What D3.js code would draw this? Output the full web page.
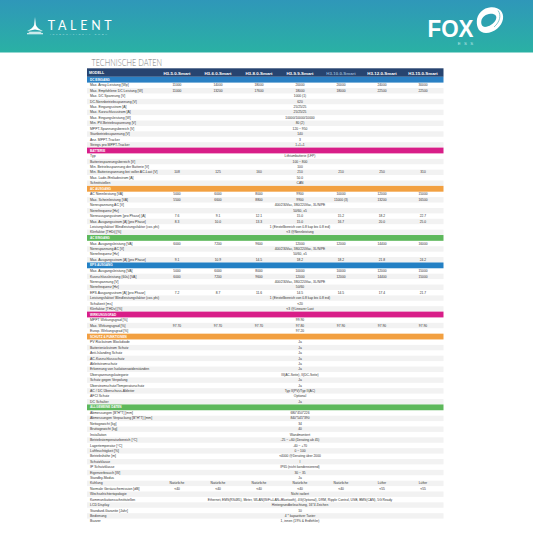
<!DOCTYPE html>
<html><head><meta charset="utf-8">
<script src="https://cdn.jsdelivr.net/npm/d3@7"></script>
<style>html,body{margin:0;padding:0;background:#fff}svg{display:block}</style></head>
<body><script>
const models=["H3-5.0-Smart","H3-6.0-Smart","H3-8.0-Smart","H3-9.9-Smart","H3-10.0-Smart","H3-12.0-Smart","H3-15.0-Smart"];
const dcRows=[["Max. Array-Leistung [Wp]",["11000","14000","18000","20000","20000","24000","30000"]],["Max. Empfohlene DC Leistung [W]",["11000","13200","17600","18000","18000","22500","22500"]],["Max. DC Spannung [V]","1000 (1)"],["DC-Nennbetriebsspannung [V]","620"],["Max. Eingangsstrom [A]","25/25/25"],["Max. Kurzschlussstrom [A]","25/25/25"],["Max. Eingangsleistung [W]","10000/10000/10000"],["Min. PV-Betriebsspannung [V]","80 (2)"],["MPPT-Spannungsbereich [V]","120 ~ 950"],["Startbetriebsspannung [V]","140"],["Anz. MPPT-Tracker","3"],["Strings pro MPPT-Tracker","1+1+1"]];
const batteryRows=[["Typ","Lithiumbatterie (LFP)"],["Batteriespannungsbereich [V]","100 ~ 800"],["Min. Betriebsspannung der Batterie [V]","100"],["Min. Batteriespannung bei voller AC-Last [V]",["108","125","160","210","210","250","310"]],["Max. Lade-/Entladestrom [A]","50.0"],["Schnittstellen","CAN"]];
const acOutRows=[["AC Nennleistung [VA]",["5000","6000","8000","9900","10000","12000","15000"]],["Max. Scheinleistung [VA]",["5500","6600","8800","9900","11000 (3)","13200","16500"]],["Nennspannung AC [V]","400/230Vac, 380/220Vac, 3L/N/PE"],["Nennfrequenz [Hz]","50/60, ±5"],["Nennausgangsstrom [pro Phase] [A]",["7.6","9.1","12.1","15.0","15.2","18.2","22.7"]],["Max. Ausgangsstrom [A] [pro Phase]",["8.3","10.0","13.3","15.0","16.7","20.0","25.0"]],["Leistungsfaktor/ Blindleistungsfaktor (cos phi)","1 (Einstellbereich von 0.8 kap bis 0.8 ind)"],["Klirrfaktor [THDi] [%]","<3 @Nennleistung"]];
const acInRows=[["Max. Ausgangsleistung [VA]",["6000","7200","9600","12000","12000","14400","16000"]],["Nennspannung AC [V]","400/230Vac, 380/220Vac, 3L/N/PE"],["Nennfrequenz [Hz]","50/60, ±5"],["Max. Ausgangsstrom [A] [pro Phase]",["9.1","10.9","14.5","18.2","18.2","21.8","24.2"]]];
const epsRows=[["Max. Ausgangsleistung [VA]",["5000","6000","8000","10000","10000","12000","15000"]],["Kurzschlussleistung (60s) [VA]",["6000","7200","9600","12000","12000","14400","15000"]],["Nennspannung [V]","400/230Vac, 380/220Vac, 3L/N/PE"],["Nennfrequenz [Hz]","50/60"],["EPS Ausgangsstrom [A] [pro Phase]",["7.2","8.7","11.6","14.5","14.5","17.4","21.7"]],["Leistungsfaktor/ Blindleistungsfaktor (cos phi)","1 (Einstellbereich von 0.8 kap bis 0.8 ind)"],["Schaltzeit [ms]","<20"],["Klirrfaktor [THDv] [%]","<3 @Linearer Last"]];
const effRows=[["MPPT Wirkungsgrad [%]","99.90"],["Max. Wirkungsgrad [%]",["97.70","97.70","97.70","97.80","97.90","97.90","97.90"]],["Europ. Wirkungsgrad [%]","97.20"]];
const protRows=[["PV Rückstrom Blockdiode","Ja"],["Batterierückstrom Schutz","Ja"],["Anti-Islanding Schutz","Ja"],["AC-Kurzschlussschutz","Ja"],["Ableitstromschutz","Ja"],["Erkennung von Isolationswiderständen","Ja"],["Überspannungskategorie","III(AC-Seite), II(DC-Seite)"],["Schutz gegen Verpolung","Ja"],["Überstromschutz/Temperaturschutz","Ja"],["AC / DC Überschuss-Ableiter","Typ II(PV)/Typ II(AC)"],["AFCI Schutz","Optional"],["DC Schalter","Ja"]];
const generalRows=[["Abmessungen [B*H*T] [mm]","680*450*226"],["Abmessungen Verpackung [B*H*T] [mm]","840*545*390"],["Nettogewicht [kg]","34"],["Bruttogewicht [kg]","40"],["Installation","Wandmontiert"],["Betriebstemperaturbereich [°C]","-25 ~ +60 (Derating ab 45)"],["Lagertemperatur [°C]","-40 ~ +70"],["Luftfeuchtigkeit [%]","0 ~ 100"],["Betriebshöhe [m]","<4000 @Derating über 2000"],["Schutzklasse","I"],["IP Schutzklasse","IP65 (nicht kondensierend)"],["Eigenverbrauch [W]","30 ~ 35"],["Standby-Modus","Ja"],["Kühlung",["Natürliche","Natürliche","Natürliche","Natürliche","Natürliche","Lüfter","Lüfter"]],["Normale Geräuschemission [dB]",["<40","<40","<40","<40","<40","<55","<55"]],["Wechselrichtertopologie","Nicht isoliert"],["Kommunikationsschnittstellen","Ethernet, EMS(RS485), Meter, WLAN(WiFi+LAN+Bluetooth), 4G(Optional), DRM, Ripple Control, USB, BMS(CAN), 5G Ready"],["LCD Display","Hintergrundbeleuchtung, 16*4 Zeichen"],["Standard-Garantie [Jahr]","10"],["Bedienung","4 * kapazitiver Taster"],["Buzzer","1, innen (19% & Erdfehler)"]];
const sections=[["DC EINGANG","#2a80c4",dcRows],["BATTERIE","#d81e88",batteryRows],["AC AUSGANG","#f2a041",acOutRows],["AC EINGANG","#5db85b",acInRows],["EPS AUSGANG","#2380c4",epsRows],["WIRKUNGSGRAD","#d81e88",effRows],["SCHUTZ & FUNKTIONEN","#f2a041",protRows],["ALLGEMEINE DATEN","#5db85b",generalRows]];

const W=533,H=533,FONT='"Liberation Sans",Arial,sans-serif';
const svg=d3.select("body").append("svg").attr("width",W).attr("height",H).attr("viewBox",[0,0,W,H]);
const grad=svg.append("defs").append("linearGradient").attr("id","hd").attr("x1",0).attr("x2",0).attr("y1",0).attr("y2",1);
grad.append("stop").attr("offset",0).attr("stop-color","#2f97b9");
grad.append("stop").attr("offset",1).attr("stop-color","#2ab1a4");
svg.append("rect").attr("width",W).attr("height",52.5).attr("fill","url(#hd)");

// TALENT logo
const lg=svg.append("g").attr("fill","#fff");
lg.append("path").attr("d","M35 17L35.9 25C36.5 27 39 29.5 43.3 31.2L35 29.6L26.7 31.2C31 29.5 33.5 27 34.1 25Z");
lg.append("path").attr("d","M28 31.7H42L40.5 32.7H29.5ZM27 33.2H43V34.2H27Z");
lg.append("text").attr("x",47.7).attr("y",30).attr("font-family",'"Lato",sans-serif').attr("font-size",12.4).attr("font-weight",400).attr("textLength",64).attr("lengthAdjust","spacing").text("TALENT");
lg.append("text").attr("x",50).attr("y",34.6).attr("font-family",FONT).attr("font-size",2.4).attr("textLength",57).attr("fill","#bfe3e6").text("INTERNATIONAL GMBH");
// FOX logo
const fx=svg.append("g").attr("fill","#fff");
fx.append("text").attr("x",427.5).attr("y",37.4).attr("font-family",FONT).attr("font-weight",700).attr("font-size",23.5).attr("textLength",46).attr("lengthAdjust","spacingAndGlyphs").text("FOX");
fx.append("text").attr("x",457.7).attr("y",45.2).attr("font-family",FONT).attr("font-size",4.4).attr("textLength",15.5).attr("fill","#bfe6e6").text("ESS");
fx.append("path").attr("fill-rule","evenodd").attr("d","M491 7.3C499 6.8 504 12 503 19C502 26 494 33 486 33C479.5 33 476.5 28 476.8 21C477 14 483 7.8 491 7.3ZM490.5 13.8C486 14 482 17 481.3 21C480.8 25.5 483 27.5 486.5 26.8C490.5 26 495.5 22.5 496.3 18C496.8 15.2 494 13.6 490.5 13.8Z");
fx.append("path").attr("fill","none").attr("stroke","#2fa3b0").attr("stroke-width",.6).attr("d","M498 10.5C501.5 15 500 22 494 27");

svg.append("text").attr("x",91.5).attr("y",65.6).attr("font-family",'"Lato",sans-serif').attr("font-weight",300).attr("font-size",9.6).attr("fill","#7d7d7d").attr("textLength",70.5).attr("lengthAdjust","spacingAndGlyphs").text("TECHNISCHE DATEN");

// scales
const x=d3.scaleBand().domain(models).range([156.5,443.5]);
const cx=i=>x(models[i])+x.bandwidth()/2;
const X0=87,X1=x.range()[1];
let u=0;const flat=[];
const BH=1.07;
sections.forEach(([name,color,rows])=>{
  flat.push({band:name,color,u0:u,u1:u+BH});u+=BH;
  rows.forEach((r,j)=>{flat.push({label:r[0],val:r[1],stripe:j%2==1,u0:u,u1:u+1});u+=1;});
});
const y=d3.scaleLinear().domain([0,u]).range([76.8,524]);

const t=svg.append("g");
t.append("rect").attr("x",X0).attr("y",68.3).attr("width",X1-X0).attr("height",8.5).attr("fill","#274470");
t.append("text").attr("x",89).attr("y",74.3).attr("font-family",FONT).attr("font-size",3.6).attr("font-weight",700).attr("fill","#fff").text("MODELL");
t.selectAll(".m").data(models).join("text").attr("x",d=>x(d)+x.bandwidth()/2).attr("y",74.5)
 .attr("text-anchor","middle").attr("font-family",FONT).attr("font-size",4.4).attr("font-weight",700)
 .attr("fill",(d,i)=>i==4?"#8fb0cf":"#fff").text(d=>d);

const g=t.selectAll(".r").data(flat).join("g");
g.filter(d=>d.band||d.stripe).append("rect").attr("x",X0).attr("width",X1-X0)
 .attr("y",d=>y(d.u0)).attr("height",d=>y(d.u1)-y(d.u0)).attr("fill",d=>d.band?d.color:"#f2f2f2");
g.filter(d=>d.band).append("text").attr("x",90).attr("y",d=>(y(d.u0)+y(d.u1))/2+1.1).attr("font-family",FONT)
 .attr("font-size",3.1).attr("font-weight",700).attr("fill","#fff").text(d=>d.band);
const tc="#333";
g.filter(d=>d.label).append("text").attr("x",90).attr("y",d=>(y(d.u0)+y(d.u1))/2+1.1).attr("font-family",FONT)
 .attr("font-size",3.45).attr("fill",tc).text(d=>d.label);
g.filter(d=>d.label).each(function(d){
  const vals=Array.isArray(d.val)?d.val.map((v,i)=>[v,cx(i)]):[[d.val,cx(3)]];
  d3.select(this).selectAll("text.v").data(vals).join("text").attr("class","v").attr("x",e=>e[1])
   .attr("y",(y(d.u0)+y(d.u1))/2+1.1).attr("text-anchor","middle").attr("font-family",FONT)
   .attr("font-size",3.3).attr("fill",tc).text(e=>e[0]);
});
</script></body></html>
